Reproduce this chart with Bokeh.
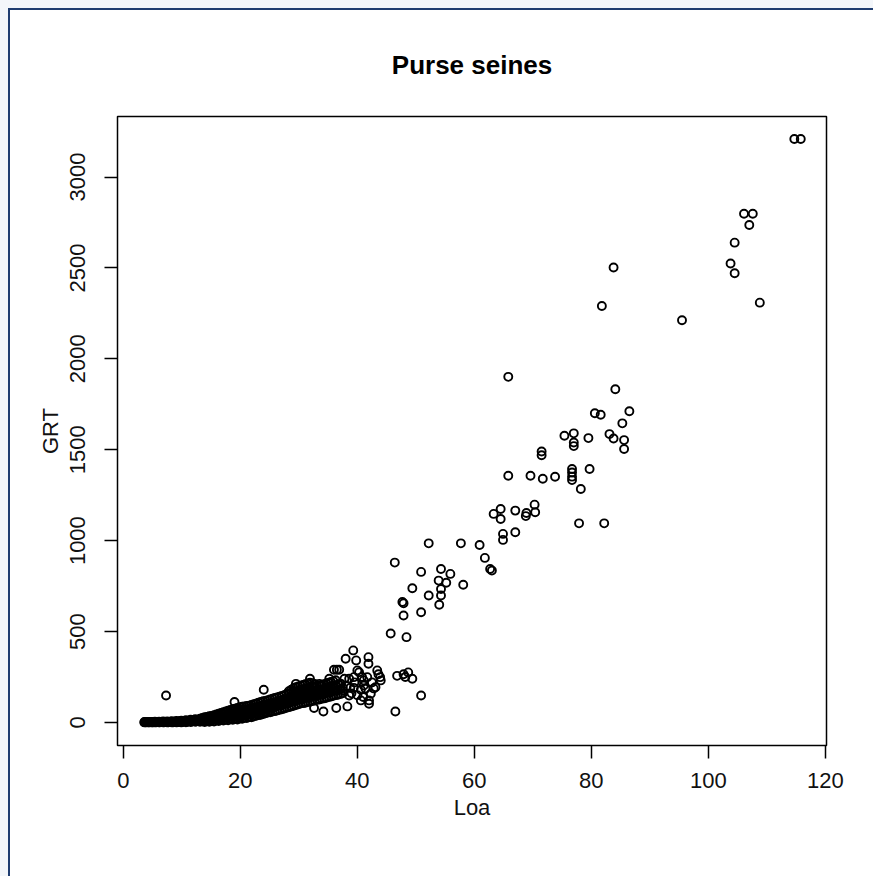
from bokeh.plotting import figure
from bokeh.models import Range1d, FixedTicker, ColumnDataSource, GlobalInlineStyleSheet
from bokeh.embed import file_html
from bokeh.resources import INLINE

title_text = "Purse seines"
x_label = "Loa"
y_label = "GRT"
x_ticks = [0, 20, 40, 60, 80, 100, 120]
y_ticks = [0, 500, 1000, 1500, 2000, 2500, 3000]

# small vessels: thin band along the bottom (Loa < 13.5)
band_loa = [3.6, 3.6, 3.9, 4.2, 4.2, 4.5, 4.8, 4.8, 5.1, 5.4, 5.4, 5.8, 6.1, 6.1,
            6.4, 6.8, 6.8, 7.1, 7.5, 7.5, 7.9, 8.3, 8.3, 8.7, 9.1, 9.1, 9.5, 9.9,
            9.9, 10.3, 10.7, 10.7, 11.1, 11.5, 11.5, 11.9, 12.3, 12.3, 12.7, 13.1,
            13.1, 7.3,
            3.75, 4.05, 4.35, 4.65, 4.95, 5.25, 5.6, 5.95, 6.25, 6.6, 6.95, 7.3,
            7.7, 8.1, 8.5, 8.9, 9.3, 9.7, 10.1, 10.5, 10.9, 11.3, 11.7, 12.1,
            12.5, 12.9, 13.3]
band_grt = [0, 2, 1, 0, 3, 1, 0, 3, 1, 0, 4, 2, 0, 4,
            2, 0, 5, 2, 0, 5, 2, 0, 6, 3, 0, 8, 4, 0,
            10, 5, 1, 12, 6, 2, 15, 8, 3, 18, 10, 4,
            20, 148,
            1, 2, 1, 2, 1, 2, 1, 3, 1, 3, 1, 3,
            1, 4, 1, 5, 2, 6, 3, 8, 4, 10, 5, 12,
            6, 14, 10]

# medium vessels (Loa 13.5 - 25)
mid_loa = [13.5, 13.5, 13.9, 13.9, 13.9, 14.3, 14.3, 14.7, 14.7, 14.7,
           15.1, 15.1, 15.5, 15.5, 15.5, 15.9, 15.9, 15.9, 16.3, 16.3, 16.3,
           16.7, 16.7, 16.7, 17.1, 17.1, 17.1, 17.5, 17.5, 17.5, 17.9, 17.9, 17.9,
           18.3, 18.3, 18.3, 18.7, 18.7, 18.7, 18.7, 19.1, 19.1, 19.1, 19.1,
           19.5, 19.5, 19.5, 19.5, 19.9, 19.9, 19.9, 19.9, 20.3, 20.3, 20.3, 20.3,
           20.7, 20.7, 20.7, 20.7, 21.1, 21.1, 21.1, 21.1, 21.5, 21.5, 21.5, 21.5,
           21.9, 21.9, 21.9, 21.9, 22.3, 22.3, 22.3, 22.3, 22.7, 22.7, 22.7, 22.7,
           23.1, 23.1, 23.1, 23.1, 23.5, 23.5, 23.5, 23.5, 23.9, 23.9, 23.9, 23.9,
           24.3, 24.3, 24.3, 24.3, 24.7, 24.7, 24.7, 24.7,
           13.7, 14.1, 14.5, 14.9, 15.3, 15.7, 16.1, 16.5, 16.9, 17.3, 17.7, 18.1,
           18.5, 18.9, 19.3, 19.7, 20.1, 20.5, 20.9, 21.3, 21.7, 22.1, 22.5, 22.9,
           23.3, 23.7, 24.1, 24.5, 24.9]
mid_grt = [6, 24, 2, 14, 28, 8, 30, 4, 18, 34,
           10, 36, 5, 22, 40, 12, 30, 44, 8, 26, 48,
           14, 34, 52, 10, 30, 56, 16, 38, 60, 12, 34, 64,
           18, 42, 68, 14, 38, 60, 72, 20, 44, 66, 76,
           16, 40, 62, 80, 22, 46, 70, 84, 20, 44, 66, 86,
           26, 50, 72, 88, 24, 48, 70, 90, 30, 54, 76, 92,
           28, 52, 76, 96, 34, 58, 82, 100, 36, 60, 84, 104,
           40, 64, 88, 108, 42, 66, 90, 112, 46, 70, 94, 116,
           50, 74, 98, 118, 54, 78, 100, 122,
           12, 20, 10, 26, 14, 32, 18, 38, 22, 44, 26, 50,
           28, 52, 30, 56, 34, 60, 38, 62, 42, 66, 48, 72,
           52, 78, 60, 86, 66]

# larger vessels of the dense cloud (Loa 25 - 38)
upper_loa = [25.1, 25.1, 25.1, 25.1, 25.5, 25.5, 25.5, 25.5, 25.9, 25.9, 25.9, 25.9,
             26.3, 26.3, 26.3, 26.3, 26.7, 26.7, 26.7, 26.7, 27.1, 27.1, 27.1, 27.1,
             27.5, 27.5, 27.5, 27.5, 27.9, 27.9, 27.9, 27.9,
             28.3, 28.3, 28.3, 28.3, 28.3, 28.7, 28.7, 28.7, 28.7, 28.7,
             29.1, 29.1, 29.1, 29.1, 29.1, 29.5, 29.5, 29.5, 29.5, 29.5,
             29.9, 29.9, 29.9, 29.9, 29.9, 30.3, 30.3, 30.3, 30.3, 30.3,
             30.7, 30.7, 30.7, 30.7, 30.7, 31.1, 31.1, 31.1, 31.1, 31.1,
             31.5, 31.5, 31.5, 31.5, 31.5, 31.9, 31.9, 31.9, 31.9, 31.9,
             32.3, 32.3, 32.3, 32.3, 32.3, 32.7, 32.7, 32.7, 32.7, 32.7,
             33.1, 33.1, 33.1, 33.1, 33.5, 33.5, 33.5, 33.5, 33.9, 33.9, 33.9, 33.9,
             34.3, 34.3, 34.3, 34.3, 34.7, 34.7, 34.7, 34.7, 35.1, 35.1, 35.1, 35.1,
             35.5, 35.5, 35.5, 35.5, 35.9, 35.9, 35.9, 35.9, 36.3, 36.3, 36.3, 36.3,
             36.7, 36.7, 36.7, 37.1, 37.1, 37.1, 37.5, 37.5]
upper_grt = [56, 80, 104, 126, 60, 84, 108, 130, 62, 86, 110, 134,
             66, 90, 114, 138, 70, 94, 118, 142, 72, 96, 122, 146,
             76, 100, 126, 150, 80, 104, 130, 156,
             84, 108, 134, 160, 172, 88, 112, 138, 164, 180,
             92, 116, 142, 168, 188, 96, 120, 146, 172, 194,
             100, 124, 150, 176, 198, 104, 128, 154, 180, 202,
             106, 130, 156, 182, 206, 108, 134, 160, 186, 210,
             112, 136, 162, 188, 214, 114, 140, 166, 192, 218,
             118, 142, 168, 194, 216, 120, 146, 172, 198, 212,
             124, 148, 174, 200, 126, 152, 178, 202, 130, 156, 182, 206,
             132, 158, 184, 210, 136, 162, 188, 214, 140, 166, 192, 218,
             142, 168, 196, 222, 146, 172, 200, 226, 150, 176, 204, 232,
             152, 180, 208, 156, 184, 212, 160, 190]

# scattered vessels around the edge of the cloud (Loa 19 - 44)
edge_loa = [19.0, 24.0, 29.5, 31.9, 33.5, 35.2, 36.0, 36.5, 36.9, 38.0, 39.3, 39.8,
            41.9, 41.9, 40.0, 40.3, 38.6, 39.4, 41.1, 41.7, 43.4, 43.9, 44.0, 43.1,
            42.0, 42.0, 40.6, 40.6, 38.6, 38.3, 36.4, 34.2, 32.6, 37.2, 37.5, 38.8,
            39.4, 41.1, 41.4, 42.3, 39.0, 40.0, 41.0, 42.5, 39.5, 40.8, 38.2, 37.8,
            42.8, 43.6]
edge_grt = [112, 180, 212, 240, 212, 240, 290, 290, 290, 350, 396, 341,
            359, 323, 286, 276, 240, 249, 231, 249, 286, 249, 231, 194,
            121, 103, 180, 121, 148, 88, 79, 60, 79, 212, 176, 190,
            190, 203, 185, 158, 160, 150, 140, 220, 220, 250, 200, 240,
            187, 265]

# large purse seiners
large_loa = [45.7, 46.4, 46.5, 46.8, 47.9, 48.7, 49.4, 48.2, 47.7, 47.9, 47.9, 48.4,
             49.4, 50.9, 50.9, 50.9, 52.2, 52.2, 53.9, 54.0, 54.3, 54.3, 54.3, 55.2,
             55.9, 57.7, 58.1, 60.9, 61.8, 62.7, 63.0, 63.3, 64.5, 64.5, 64.9, 64.9,
             65.8, 65.8, 67.0, 67.0, 68.8, 68.9, 69.6, 70.3, 70.4, 71.5, 71.5, 71.7,
             73.8, 75.4, 76.7, 76.7, 76.7, 76.7, 77.0, 77.0, 77.0, 77.9, 78.2, 79.5,
             79.7, 80.6, 81.6, 81.8, 82.2, 83.1, 83.8, 83.8, 84.1, 85.3, 85.6, 85.6,
             86.5, 95.5, 103.8, 104.5, 104.5, 106.1, 107.0, 107.6, 108.8, 114.7, 115.8]
large_grt = [489, 879, 60, 256, 265, 275, 240, 250, 662, 655, 588, 469,
             738, 828, 606, 148, 985, 698, 780, 647, 844, 734, 698, 768,
             817, 985, 757, 976, 905, 844, 835, 1147, 1174, 1119, 1037, 1004,
             1357, 1901, 1165, 1046, 1135, 1152, 1357, 1198, 1156, 1490, 1470, 1340,
             1351, 1577, 1394, 1375, 1352, 1333, 1590, 1540, 1520, 1095, 1284, 1564,
             1394, 1701, 1692, 2291, 1095, 1586, 1562, 2502, 1833, 1645, 1553, 1504,
             1712, 2212, 2524, 2471, 2639, 2798, 2736, 2798, 2309, 3209, 3209]

loa = band_loa + mid_loa + upper_loa + edge_loa + large_loa
grt = band_grt + mid_grt + upper_grt + edge_grt + large_grt
source = ColumnDataSource(data=dict(loa=loa, grt=grt))

FONT = "Liberation Sans"

page_css = GlobalInlineStyleSheet(css="html, body { margin: 0; padding: 0; } "
                                      "body { background: #f3f6fa; padding: 8px 0 0 8px; overflow: hidden; }")

p = figure(width=866, height=869, output_backend="svg", toolbar_location=None,
           x_range=Range1d(-1.0, 120.2), y_range=Range1d(-127, 3333),
           min_border_left=107, min_border_right=50, min_border_top=106,
           min_border_bottom=134)
p.styles = {"border-left": "2px solid #1f3d70", "border-top": "2px solid #1f3d70",
            "background": "white"}
p.stylesheets = [page_css]

p.scatter("loa", "grt", source=source, marker="circle", size=8,
          fill_color=None, line_color="black", line_width=1.9)

p.title.text = title_text
p.title.text_font = FONT
p.title.text_font_size = "26px"
p.title.text_font_style = "bold"
p.title.text_color = "black"
p.title.align = "center"
p.title.standoff = 73

p.outline_line_color = "black"
p.outline_line_width = 1.5
p.grid.visible = False
p.background_fill_color = "white"
p.border_fill_color = "white"

p.xaxis.ticker = FixedTicker(ticks=x_ticks)
p.yaxis.ticker = FixedTicker(ticks=y_ticks)
for ax in (p.xaxis, p.yaxis):
    ax.axis_line_color = None
    ax.major_tick_line_color = "black"
    ax.major_tick_line_width = 1.5
    ax.major_tick_in = 0
    ax.major_tick_out = 13
    ax.minor_tick_line_color = None
    ax.major_label_text_font = FONT
    ax.major_label_text_font_size = "22px"
    ax.major_label_text_color = "#111111"
    ax.axis_label_text_font = FONT
    ax.axis_label_text_font_size = "22px"
    ax.axis_label_text_font_style = "normal"
    ax.axis_label_text_color = "#111111"

p.xaxis.axis_label = x_label
p.yaxis.axis_label = y_label
p.xaxis.major_label_standoff = 14
p.xaxis.axis_label_standoff = 4
p.yaxis.major_label_orientation = "vertical"
p.yaxis.major_label_standoff = 19
p.yaxis.axis_label_standoff = 5

open("out.html", "w").write(file_html(p, INLINE))
